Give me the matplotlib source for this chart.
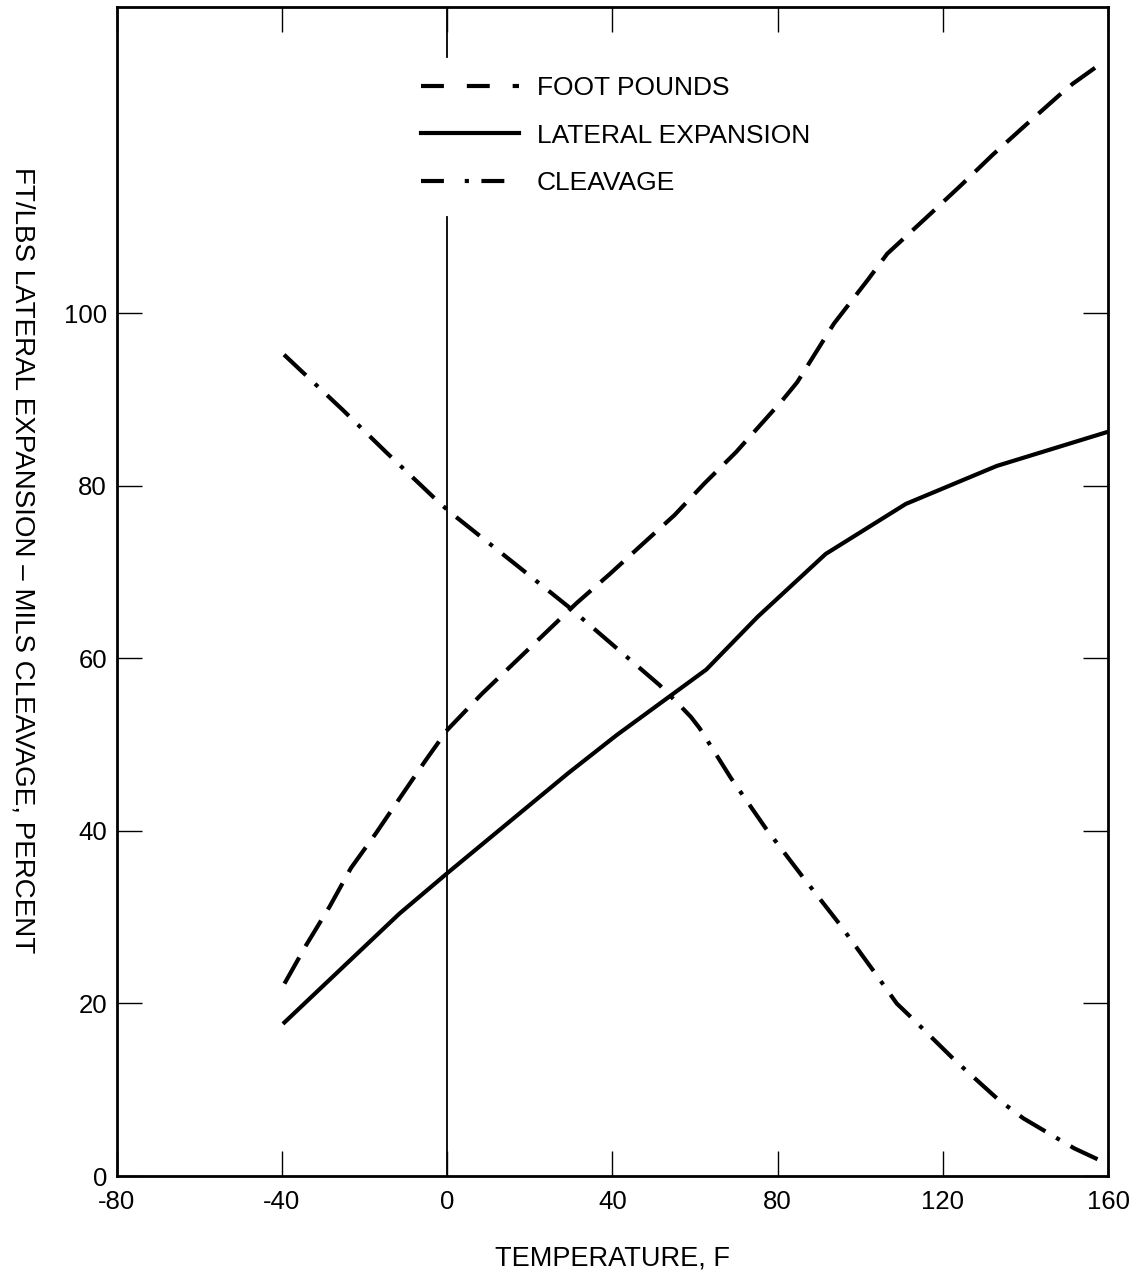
import matplotlib
matplotlib.use("Agg")
import matplotlib.pyplot as plt
from matplotlib.lines import Line2D

plt.rcParams['font.family'] = ['Liberation Sans', 'DejaVu Sans']

# foot pounds (dashed)
fp_temp = [-39.4, -34.1, -28.5, -23.3, -17.3, -11.2, -5.2, 0, 8.4, 31.3, 39.4,
           47.4, 55, 62.3, 69.9, 81.1, 84.7, 93.6, 102, 106.5, 116.9, 124.5,
           132.1, 140.2, 148.2, 151.4, 158.7]
fp_val = [22.3, 26.8, 31.2, 35.7, 39.7, 44, 48.2, 51.7, 55.9, 66.4, 69.8,
          73.3, 76.6, 80.3, 83.9, 89.9, 92, 98.8, 104, 106.9, 111.5, 114.9,
          118.4, 121.9, 125.3, 126.6, 129.1]

# lateral expansion (solid)
le_temp = [-39.4, -11.6, 0, 29.3, 41, 62.7, 75.1, 91.6, 111, 133, 159.5]
le_val = [17.8, 30.4, 35.1, 46.7, 51.1, 58.7, 64.8, 72.1, 77.9, 82.3, 86.2]

# cleavage (dash-dot)
cl_temp = [-39.5, -25.3, -14.8, -1.6, 0.8, 18.1, 29.3, 51.4, 56.2, 59, 61.1,
           68.7, 77.1, 86, 94.8, 103.6, 108.8, 112.5, 122.9, 133.3, 139.4,
           145.4, 151.8, 158.5]
cl_val = [95.2, 88.8, 83.9, 77.9, 76.9, 70.3, 66, 56.9, 54.6, 53.2, 51.9,
          46.1, 40.3, 34.7, 29.3, 23.5, 20, 18.3, 13.4, 8.9, 6.7,
          5, 3.2, 1.7]

labels = ['FOOT POUNDS', 'LATERAL EXPANSION', 'CLEAVAGE']
x_ticks = [-80, -40, 0, 40, 80, 120, 160]
y_ticks = [0, 20, 40, 60, 80, 100]
ref_line_top = 111.2

fig = plt.figure(figsize=(11.41, 12.70), dpi=100)
ax = fig.add_axes([0.1023, 0.074, 0.869, 0.9205])

lw = 3
dash_fp = (7.2, 3.1)
dash_cl = (7.2, 3.0, 1.0, 3.0)

ax.plot(fp_temp, fp_val, color='black', lw=lw, dashes=dash_fp)
ax.plot(le_temp, le_val, color='black', lw=lw)
ax.plot(cl_temp, cl_val, color='black', lw=lw, dashes=dash_cl)

# vertical reference line at 0 F
ax.plot([0, 0], [0, ref_line_top], color='black', lw=1.3)
ax.axvline(0, ymin=1 - 50 / 1169, ymax=1, color='black', lw=1.3)

ax.set_xlim(-80, 160)
ax.set_ylim(0, 135.5)
ax.set_xticks(x_ticks)
ax.set_yticks(y_ticks)
ax.set_xticklabels([str(t) for t in x_ticks])
ax.tick_params(direction='in', top=True, right=True, length=18, width=1,
               labelsize=18.5)
ax.tick_params(axis='x', pad=10)
ax.tick_params(axis='y', pad=7)
for s in ax.spines.values():
    s.set_linewidth(2)

ax.set_xlabel('TEMPERATURE, F', fontsize=19.5, labelpad=23)
ax.set_ylabel('FT/LBS LATERAL EXPANSION \u2013 MILS CLEAVAGE, PERCENT',
              fontsize=20, rotation=-90, va='center', ha='center')
ax.yaxis.set_label_coords(-0.0955, 0.527)

handles = [
    Line2D([], [], color='black', lw=lw, dashes=(5.5, 5.5)),
    Line2D([], [], color='black', lw=lw),
    Line2D([], [], color='black', lw=lw, dashes=(5.5, 5.0, 1.0, 3.0)),
]
ax.legend(handles, labels, loc='upper left', bbox_to_anchor=(0.307, 0.941),
          frameon=False, fontsize=19, handlelength=3.7, handletextpad=0.68,
          labelspacing=0.9, borderpad=0, borderaxespad=0)

fig.savefig('out.png', dpi=100)
